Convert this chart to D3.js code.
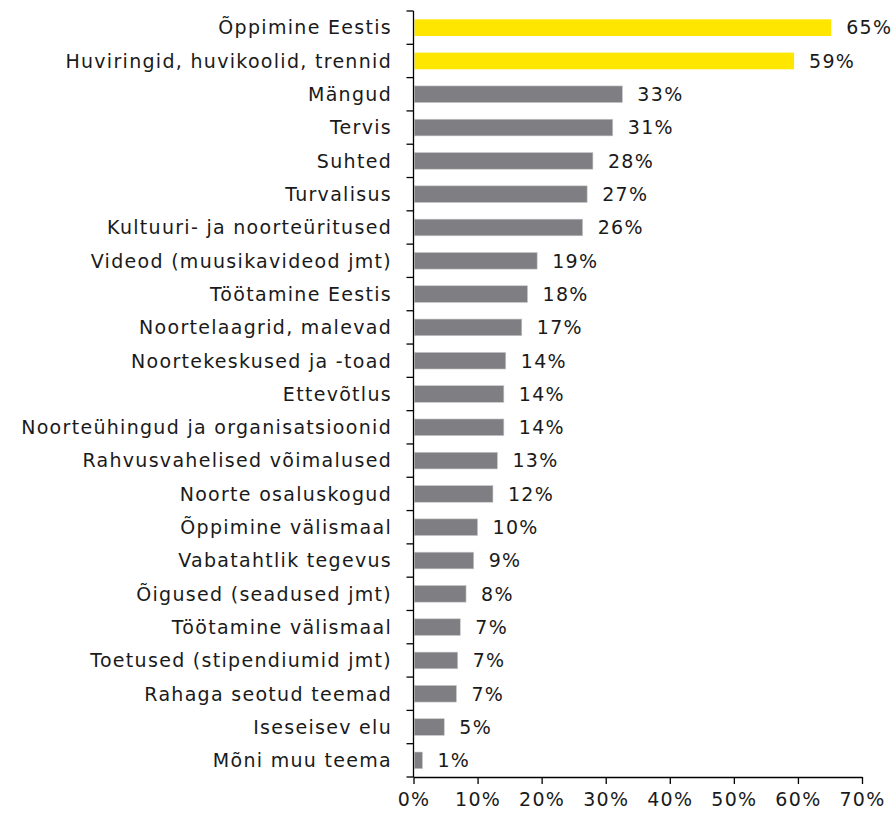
<!DOCTYPE html>
<html>
<head>
<meta charset="utf-8">
<script src="https://cdn.jsdelivr.net/npm/d3@7"></script>
<style>
  body { margin: 0; background: #fff; }
  text { font-family: "DejaVu Sans", sans-serif; fill: #1a1a1a; }
</style>
</head>
<body>
<svg id="chart"></svg>
<script>
// topics and share of answers (%)
const topics = [
  "Õppimine Eestis",
  "Huviringid, huvikoolid, trennid",
  "Mängud",
  "Tervis",
  "Suhted",
  "Turvalisus",
  "Kultuuri- ja noorteüritused",
  "Videod (muusikavideod jmt)",
  "Töötamine Eestis",
  "Noortelaagrid, malevad",
  "Noortekeskused ja -toad",
  "Ettevõtlus",
  "Noorteühingud ja organisatsioonid",
  "Rahvusvahelised võimalused",
  "Noorte osaluskogud",
  "Õppimine välismaal",
  "Vabatahtlik tegevus",
  "Õigused (seadused jmt)",
  "Töötamine välismaal",
  "Toetused (stipendiumid jmt)",
  "Rahaga seotud teemad",
  "Iseseisev elu",
  "Mõni muu teema"
];
const shares = [65.2, 59.4, 32.6, 31.1, 28.0, 27.1, 26.4, 19.3, 17.8, 16.9, 14.4, 14.1, 14.1,
                 13.1, 12.4, 10.0, 9.4, 8.2, 7.3, 6.9, 6.7, 4.8, 1.4];
const highlighted = ["Õppimine Eestis", "Huviringid, huvikoolid, trennid"];
const xTicks = [0, 10, 20, 30, 40, 50, 60, 70];

const width = 895, height = 816;
const margin = {top: 11, right: 33, bottom: 39, left: 413.5};
const fontSize = "19px", spacing = "1.3px";

const data = topics.map((t, i) => ({topic: t, value: shares[i]}));

const svg = d3.select("#chart").attr("width", width).attr("height", height);

const x = d3.scaleLinear().domain([0, 70]).range([margin.left, width - margin.right]);
const y = d3.scaleBand().domain(topics)
  .range([margin.top, height - margin.bottom])
  .paddingInner(0.5).paddingOuter(0.25);

// bars
svg.append("g").selectAll("rect")
  .data(data)
  .enter()
  .append("rect")
    .attr("x", x(0) + 1)
    .attr("y", d => y(d.topic))
    .attr("width", d => x(d.value) - x(0) - 1)
    .attr("height", y.bandwidth())
    .attr("fill", d => highlighted.includes(d.topic) ? "#ffe600" : "#7f7e82")
    .attr("stroke", d => highlighted.includes(d.topic) ? "none" : "#c8c8c8")
    .attr("stroke-width", 0.6);

// value labels
svg.append("g").selectAll("text")
  .data(data)
  .enter()
  .append("text")
    .attr("x", d => x(d.value) + 15)
    .attr("y", d => y(d.topic) + y.bandwidth() / 2)
    .attr("dy", "0.36em")
    .style("font-size", fontSize)
    .style("letter-spacing", spacing)
    .text(d => Math.round(d.value) + "%");

// category labels
svg.append("g").selectAll("text")
  .data(data)
  .enter()
  .append("text")
    .attr("x", 392)
    .attr("y", d => y(d.topic) + y.bandwidth() / 2)
    .attr("dy", "0.36em")
    .attr("text-anchor", "end")
    .style("font-size", fontSize)
    .style("letter-spacing", spacing)
    .text(d => d.topic);

// y axis line with ticks between categories
const yAxis = svg.append("g").attr("stroke", "#000").attr("stroke-width", 1.3);
yAxis.append("line")
  .attr("x1", x(0)).attr("x2", x(0))
  .attr("y1", margin.top).attr("y2", height - margin.bottom);
const bounds = d3.range(topics.length + 1).map(i => margin.top + i * y.step());
yAxis.selectAll(".tk")
  .data(bounds)
  .enter()
  .append("line")
    .attr("class", "tk")
    .attr("x1", x(0) - 7).attr("x2", x(0))
    .attr("y1", d => d).attr("y2", d => d);

// x axis
const xAxis = svg.append("g")
  .attr("transform", `translate(0,${height - margin.bottom})`)
  .call(d3.axisBottom(x).tickValues(xTicks).tickSize(7).tickSizeOuter(0).tickPadding(9)
    .tickFormat(d => d + "%"));
xAxis.select(".domain").attr("stroke-width", 1.3);
xAxis.selectAll(".tick line").attr("stroke-width", 1.3);
xAxis.selectAll("text")
  .style("font-size", fontSize)
  .style("letter-spacing", spacing)
  .style("font-family", "DejaVu Sans, sans-serif")
  .attr("fill", "#1a1a1a");
</script>
</body>
</html>
